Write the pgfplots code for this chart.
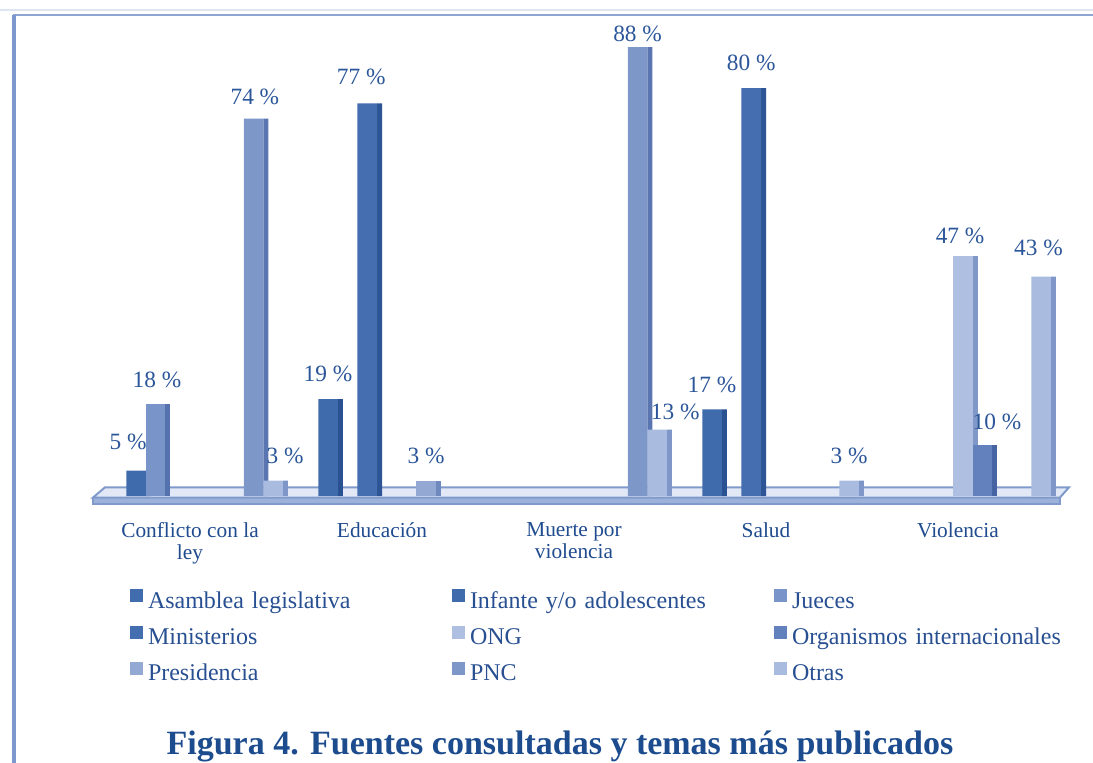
\documentclass[border=0pt]{standalone}
\usepackage{pgfplots}
\usepackage{pgfplotstable}
\pgfplotsset{compat=1.18}
\usepackage{fontspec}
\setmainfont{Liberation Serif}

\definecolor{fA}{HTML}{416CAE}\definecolor{sA}{HTML}{2C5394}
\definecolor{fB}{HTML}{3F6AAC}\definecolor{sB}{HTML}{2A5192}
\definecolor{fC}{HTML}{7894C8}\definecolor{sC}{HTML}{5672AE}
\definecolor{fD}{HTML}{446EAF}\definecolor{sD}{HTML}{2D5596}
\definecolor{fE}{HTML}{AFBFE1}\definecolor{sE}{HTML}{7F98C8}
\definecolor{fF}{HTML}{6382BD}\definecolor{sF}{HTML}{4664A3}
\definecolor{fG}{HTML}{93A9D4}\definecolor{sG}{HTML}{6F89BF}
\definecolor{fH}{HTML}{7D97C9}\definecolor{sH}{HTML}{5A75AF}
\definecolor{fI}{HTML}{A9BBDE}\definecolor{sI}{HTML}{7E97C8}
\definecolor{labcol}{HTML}{2B5699}
\definecolor{tickcol}{HTML}{1F4B8F}
\definecolor{legcol}{HTML}{274F91}
\definecolor{titlecol}{HTML}{1C4C8E}
\definecolor{floorline}{HTML}{7F9ACB}
\definecolor{floortop}{HTML}{E2E8F5}
\definecolor{floorfront}{HTML}{9DB2DA}

% x = category index, y = percent, dx/dy = label offsets (pt)
\pgfplotstableread{
x y dx dy
0 5 -6 15.75
1 19 0 13.5
3 17 0 12.75
}\tInf
\pgfplotstableread{
x y dx dy
0 18 1 12.75
}\tJue
\pgfplotstableread{
x y dx dy
1 77 -4.5 14
3 80 0 13.5
}\tMin
\pgfplotstableread{
x y dx dy
4 47 -2 9.75
}\tONG
\pgfplotstableread{
x y dx dy
4 10 11 12
}\tOrg
\pgfplotstableread{
x y dx dy
1 3 0 13
}\tPre
\pgfplotstableread{
x y dx dy
0 74 1 10.5
2 88 0 4.5
}\tPNC
\pgfplotstableread{
x y dx dy
0 3 9 12.75
2 13 13.5 7.5
3 3 0 13
4 43 -2 15.75
}\tOtr

\pgfplotsset{
  sq legend/.style={legend image code/.code={\fill[##1] (0pt,0.3pt) rectangle (9.75pt,10pt);}},
  front/.style n args={2}{ybar, bar width=0.102, bar shift=#1, fill=#2, draw=none, sq legend,
    point meta=y,
    visualization depends on=\thisrow{dx}\as\dx,
    visualization depends on=\thisrow{dy}\as\dy,
    nodes near coords={\pgfmathprintnumber[fixed,precision=0]{\pgfplotspointmeta}~\%},
    every node near coord/.append style={anchor=base, inner sep=0pt,
      xshift={\dx pt + #1*144pt}, yshift=\dy pt,
      font=\fontsize{17.5}{18}\selectfont, text=labcol}},
  side/.style n args={2}{ybar, bar width=0.026, bar shift=#1, fill=#2, draw=none, forget plot},
}

\begin{document}
\begin{tikzpicture}
\useasboundingbox (0,0) rectangle (819.75pt,-572.25pt);
% frame
\draw[color={rgb,255:red,221;green,228;blue,242}, line width=1pt] (0pt,-7.5pt) -- (819.75pt,-7.5pt);
\draw[color={rgb,255:red,142;green,165;blue,209}, line width=1.5pt] (9.75pt,-11.25pt) -- (819.75pt,-11.25pt);
\draw[color={rgb,255:red,124;green,152;blue,204}, line width=2.3pt] (10.5pt,-11.25pt) -- (10.5pt,-572.25pt);

\begin{axis}[
  at={(70.5pt,-372pt)}, anchor=south west,
  scale only axis, width=720pt, height=344.25pt,
  xmin=-0.5, xmax=4.5, ymin=0, ymax=90,
  clip=false,
  axis line style={draw=none},
  major tick length=0pt,
  ytick=\empty,
  xtick={0,1,2,3,4},
  xticklabels={{Conflicto con la\\ley},{Educación},{Muerte por\\violencia},{Salud},{Violencia}},
  xticklabel style={font=\fontsize{16}{17}\selectfont, text=tickcol, align=center, inner sep=0pt, anchor=north, yshift=-19.5pt},
  /pgf/number format/assume math mode=true,
  sq legend,
  legend columns=3,
  legend cell align=left,
  legend style={at={(0.0375,-0.2033)}, anchor=north west, draw=none, fill=none,
    inner sep=0pt, outer sep=0pt,
    font=\fontsize{18}{18}\selectfont, text=legcol,
    nodes={inner sep=0pt, text width=228pt, align=left, text height=12.5pt, text depth=4pt},
    /tikz/row sep=9pt,
    /tikz/every odd column/.append style={column sep=3.75pt},
    /tikz/every even column/.append style={column sep=0pt}},
]
% floor
\filldraw[fill=floorfront, draw=floorline, line width=1pt]
  (axis cs:-0.505,-0.3) -- (axis cs:4.531,-0.3) -- (axis cs:4.531,-1.6) -- (axis cs:-0.505,-1.6) -- cycle;
\filldraw[fill=floortop, draw=floorline, line width=1.5pt]
  (axis cs:-0.505,-0.3) -- (axis cs:4.531,-0.3) -- (axis cs:4.578,1.7) -- (axis cs:-0.443,1.7) -- cycle;

\addlegendimage{fill=fA, draw=none}
\addlegendentry{Asamblea legislativa}

\addplot[side={-0.217}{sB}] table[x=x,y=y]{\tInf};
\addplot[front={-0.281}{fB}] table[x=x,y=y]{\tInf};
\addlegendentry{Infante y/o adolescentes}

\addplot[side={-0.115}{sC}] table[x=x,y=y]{\tJue};
\addplot[front={-0.179}{fC}] table[x=x,y=y]{\tJue};
\addlegendentry{Jueces}

\addplot[side={-0.013}{sD}] table[x=x,y=y]{\tMin};
\addplot[front={-0.077}{fD}] table[x=x,y=y]{\tMin};
\addlegendentry{Ministerios}

\addplot[side={0.089}{sE}] table[x=x,y=y]{\tONG};
\addplot[front={0.025}{fE}] table[x=x,y=y]{\tONG};
\addlegendentry{ONG}

\addplot[side={0.191}{sF}] table[x=x,y=y]{\tOrg};
\addplot[front={0.127}{fF}] table[x=x,y=y]{\tOrg};
\addlegendentry{Organismos internacionales}

\addplot[side={0.293}{sG}] table[x=x,y=y]{\tPre};
\addplot[front={0.229}{fG}] table[x=x,y=y]{\tPre};
\addlegendentry{Presidencia}

\addplot[side={0.395}{sH}] table[x=x,y=y]{\tPNC};
\addplot[front={0.331}{fH}] table[x=x,y=y]{\tPNC};
\addlegendentry{PNC}

\addplot[side={0.497}{sI}] table[x=x,y=y]{\tOtr};
\addplot[front={0.433}{fI}] table[x=x,y=y]{\tOtr};
\addlegendentry{Otras}
\end{axis}

\node[anchor=base, font=\fontsize{25.5}{26}\selectfont\bfseries, text=titlecol] at (420pt,-565.5pt)
  {Figura 4. Fuentes consultadas y temas más publicados};
\end{tikzpicture}
\end{document}
